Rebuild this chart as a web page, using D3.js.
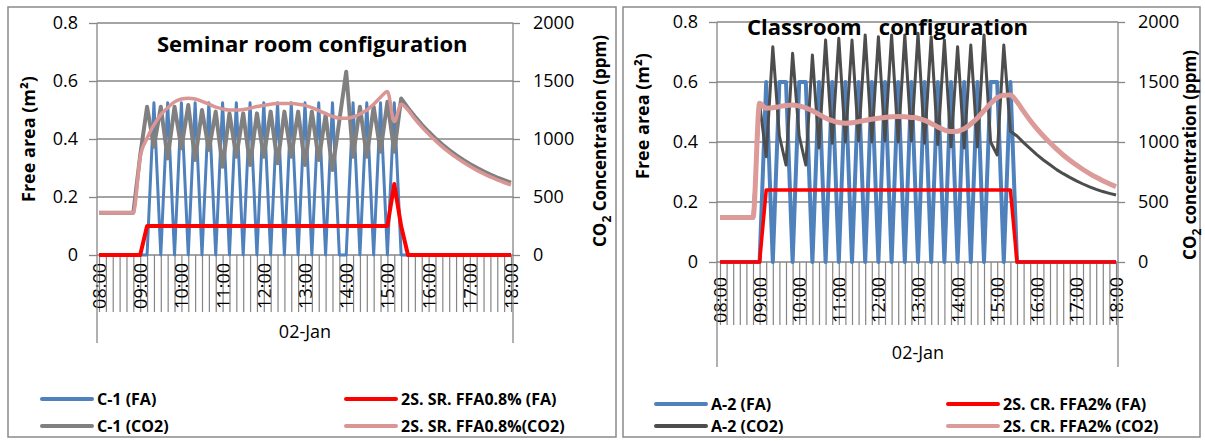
<!DOCTYPE html>
<html>
<head>
<meta charset="utf-8">
<title>Free area and CO2 concentration</title>
<script src="https://d3js.org/d3.v7.min.js"></script>
<style>
  body { margin: 0; background: #fff; }
  text { font-family: "Open Sans", sans-serif; fill: #000; }
</style>
</head>
<body>
<div id="chart"></div>
<script>

// categories: 10-minute steps, 02-Jan
const times = [
  "08:00","08:10","08:20","08:30","08:40","08:50","09:00","09:10","09:20","09:30","09:40","09:50",
  "10:00","10:10","10:20","10:30","10:40","10:50","11:00","11:10","11:20","11:30","11:40","11:50",
  "12:00","12:10","12:20","12:30","12:40","12:50","13:00","13:10","13:20","13:30","13:40","13:50",
  "14:00","14:10","14:20","14:30","14:40","14:50","15:00","15:10","15:20","15:30","15:40","15:50",
  "16:00","16:10","16:20","16:30","16:40","16:50","17:00","17:10","17:20","17:30","17:40","17:50",
  "18:00"];
const hourLabels = ["08:00","09:00","10:00","11:00","12:00","13:00","14:00","15:00","16:00","17:00","18:00"];
const faTicks = [0, 0.2, 0.4, 0.6, 0.8];
const co2Ticks = [0, 500, 1000, 1500, 2000];

// Seminar room (left chart)
const c1FA = [
  0,0,0,0,0,0,0,0,
  .525,0,.525,0,.525,0,.525,0,
  .525,0,.525,0,.525,0,.525,0,
  .525,0,.525,0,.525,0,.525,0,
  .525,0,.525,0,0,.525,0,.525,
  0,.525,0,.525,0,0,0,0,
  0,0,0,0,0,0,0,0,
  0,0,0,0,0];
const sr2FA = [
  0,0,0,0,0,0,0,
  .1,.1,.1,.1,.1,.1,.1,.1,.1,.1,.1,.1,.1,.1,.1,.1,.1,.1,
  .1,.1,.1,.1,.1,.1,.1,.1,.1,.1,.1,.1,.1,.1,.1,.1,.1,.1,
  .245,.1,
  0,0,0,0,0,0,0,0,0,0,0,0,0,0,0,0];
const c1CO2 = [
  365,365,365,365,365,365,860,
  1278,934,1278,833,1278,920,1293,819,1250,905,1236,761,1221,847,1221,776,1221,847,
  1236,790,1236,847,1236,776,1236,819,1207,733,1158,1580,847,1278,847,1278,890,1322,890,1350,
  1268,1193,1124,1062,1005,952,905,861,821,785,752,721,693,668,645,624];
const sr2CO2 = [
  365,365,365,365,365,365,847,
  1006,1121,1210,1270,1320,1345,1351,1345,1325,1300,1275,1260,1250,1250,1255,1265,1280,1290,
  1300,1305,1307,1305,1300,1290,1270,1245,1220,1195,1180,1178,1190,1215,1250,1300,1360,1410,1150,1300,
  1250,1173,1104,1042,985,932,885,841,801,765,732,701,673,648,625,604];

// Classroom (right chart)
const a2FA = [
  0,0,0,0,0,0,0,.6,
  0,.6,.6,0,.6,.6,0,.6,
  0,.6,0,.6,0,.6,0,.6,
  0,.6,0,.6,0,.6,0,.6,
  0,.6,0,.6,0,.6,0,.6,
  0,.6,.6,0,.6,0,0,0,
  0,0,0,0,0,0,0,0,
  0,0,0,0,0];
const cr2FA = [
  0,0,0,0,0,0,0,
  .24,.24,.24,.24,.24,.24,.24,.24,.24,.24,.24,.24,.24,.24,.24,.24,.24,.24,.24,
  .24,.24,.24,.24,.24,.24,.24,.24,.24,.24,.24,.24,.24,.24,.24,.24,.24,.24,.24,
  0,0,0,0,0,0,0,0,0,0,0,0,0,0,0,0];
const a2CO2 = [
  370,370,370,370,370,370,1320,
  878,1794,1050,808,1739,1050,808,1725,950,1850,990,1864,1000,1850,1010,1892,1000,1878,
  1010,1892,1000,1892,1010,1906,990,1878,980,1850,960,1794,950,1808,960,1892,1000,892,1808,1090,
  1050,995,945,895,850,810,770,736,705,676,650,626,605,587,572,558];
const cr2CO2 = [
  370,370,370,370,370,370,1322,
  1282,1285,1295,1305,1308,1300,1285,1260,1230,1200,1178,1162,1156,1160,1170,1180,1190,1198,
  1205,1210,1212,1211,1205,1198,1180,1155,1125,1100,1087,1090,1110,1150,1200,1260,1320,1370,1390,1392,
  1335,1255,1180,1112,1050,993,940,892,848,808,771,737,706,678,652,628];

const W = 1205, H = 441;
const svg = d3.select("#chart").append("svg").attr("width", W).attr("height", H);

const charts = [
  {
    box: [8, 7, 616, 437], axL: 97, axR: 513, x0: 99, x1: 511, yTop: 23, yBot: 255,
    axisEnd: 343, tickEnd: 312, labelTop: 263, janY: 338,
    title: "Seminar room configuration", titleX: 157, titleY: 52,
    lTitleX: 29, lTitleY: 139, rTitleX: 600, rTitleY: 141, rWord: "Concentration",
    legX: [42, 346], legY: [399, 426],
    series: [
      {name: "C-1 (FA)", data: c1FA, axis: "L", color: "#4f81bd", w: 3, leg: [0, 0]},
      {name: "2S. SR. FFA0.8% (FA)", data: sr2FA, axis: "L", color: "#ff0000", w: 4, leg: [1, 0]},
      {name: "C-1 (CO2)", data: c1CO2, axis: "R", color: "#808080", w: 4, leg: [0, 1]},
      {name: "2S. SR. FFA0.8%(CO2)", data: sr2CO2, axis: "R", color: "#d99694", w: 3.5, smooth: true, leg: [1, 1]}
    ]
  },
  {
    box: [623, 7, 1200, 437], axL: 717, axR: 1118, x0: 720, x1: 1116, yTop: 22, yBot: 262,
    axisEnd: 367, tickEnd: 325, labelTop: 277, janY: 359,
    title: "Classroom   configuration", titleX: 747, titleY: 35,
    lTitleX: 643, lTitleY: 116, rTitleX: 1190, rTitleY: 155, rWord: "concentration",
    legX: [656, 948], legY: [404, 426],
    series: [
      {name: "A-2 (FA)", data: a2FA, axis: "L", color: "#4f81bd", w: 4, leg: [0, 0]},
      {name: "2S. CR. FFA2% (FA)", data: cr2FA, axis: "L", color: "#ff0000", w: 3.5, leg: [1, 0]},
      {name: "A-2 (CO2)", data: a2CO2, axis: "R", color: "#4d4d4d", w: 3, leg: [0, 1]},
      {name: "2S. CR. FFA2% (CO2)", data: cr2CO2, axis: "R", color: "#dc9a99", w: 5, smooth: true, leg: [1, 1]}
    ]
  }
];

const gridColor = "#868686";

charts.forEach(function(c) {
  const g = svg.append("g");
  g.append("rect")
    .attr("x", c.box[0]).attr("y", c.box[1])
    .attr("width", c.box[2] - c.box[0]).attr("height", c.box[3] - c.box[1])
    .attr("fill", "#fff").attr("stroke", "#8a8a8a").attr("stroke-width", 1.5);

  const x = d3.scalePoint().domain(times).range([c.x0, c.x1]);
  const yL = d3.scaleLinear().domain([0, 0.8]).range([c.yBot, c.yTop]);
  const yR = d3.scaleLinear().domain([0, 2000]).range([c.yBot, c.yTop]);

  // horizontal gridlines
  g.selectAll(".grid").data(faTicks).enter().append("line")
    .attr("x1", c.axL).attr("x2", c.axR)
    .attr("y1", d => yL(d)).attr("y2", d => yL(d))
    .attr("stroke", gridColor).attr("stroke-width", 1.3);

  // category ticks (every 10 min) and hour labels
  const xAxis = d3.axisBottom(x)
    .tickSize(c.tickEnd - c.yBot)
    .tickFormat(d => hourLabels.indexOf(d) >= 0 ? d : "");
  const gx = g.append("g").attr("transform", "translate(0," + c.yBot + ")").call(xAxis);
  gx.select(".domain").remove();
  gx.selectAll(".tick line").attr("stroke", gridColor).attr("stroke-width", 1.2);
  gx.selectAll(".tick text")
    .attr("x", 0).attr("y", 0).attr("dy", "0.36em")
    .attr("transform", "translate(0," + (c.labelTop - c.yBot) + ") rotate(-90)")
    .style("text-anchor", "end")
    .style("font-size", "18px").style("font-family", "'Open Sans', sans-serif").attr("fill", "#000");

  // left value axis
  const gl = g.append("g").attr("transform", "translate(" + c.axL + ",0)")
    .call(d3.axisLeft(yL).tickValues(faTicks).tickSize(8).tickPadding(11)
      .tickFormat(d => d === 0 ? "0" : d3.format(".1f")(d)));
  gl.select(".domain").remove();
  gl.selectAll(".tick line").attr("stroke", gridColor).attr("stroke-width", 1.3);
  gl.selectAll(".tick text").style("font-size", "18px").style("font-family", "'Open Sans', sans-serif").attr("fill", "#000");

  // right value axis
  const gr = g.append("g").attr("transform", "translate(" + c.axR + ",0)")
    .call(d3.axisRight(yR).tickValues(co2Ticks).tickSize(7).tickPadding(13).tickFormat(d3.format("d")));
  gr.select(".domain").remove();
  gr.selectAll(".tick line").attr("stroke", gridColor).attr("stroke-width", 1.3);
  gr.selectAll(".tick text").style("font-size", "18px").style("font-family", "'Open Sans', sans-serif").attr("fill", "#000");

  // vertical axis lines
  [c.axL, c.axR].forEach(function(ax) {
    g.append("line").attr("x1", ax).attr("x2", ax).attr("y1", c.yTop).attr("y2", c.axisEnd)
      .attr("stroke", gridColor).attr("stroke-width", 1.3);
  });

  // series
  c.series.forEach(function(s) {
    const y = s.axis === "L" ? yL : yR;
    const line = d3.line()
      .x((d, i) => x(times[i]))
      .y(d => y(d))
      .curve(s.smooth ? d3.curveMonotoneX : d3.curveLinear);
    g.append("path").datum(s.data)
      .attr("d", line)
      .attr("fill", "none")
      .attr("stroke", s.color)
      .attr("stroke-width", s.w)
      .attr("stroke-linejoin", "round");
  });

  // title
  g.append("text").attr("x", c.titleX).attr("y", c.titleY)
    .attr("xml:space", "preserve").style("white-space", "pre")
    .style("font-size", "22px").style("font-weight", "bold")
    .text(c.title);

  // date label
  g.append("text").attr("x", (c.x0 + c.x1) / 2).attr("y", c.janY)
    .attr("text-anchor", "middle").style("font-size", "18px")
    .text("02-Jan");

  // left axis title
  const lt = g.append("text")
    .attr("transform", "translate(" + c.lTitleX + "," + c.lTitleY + ") rotate(-90)")
    .attr("text-anchor", "middle").attr("dy", "0.35em")
    .style("font-size", "18px").style("font-weight", "bold");
  lt.text("Free area (m²)");

  // right axis title with subscript
  const rt = g.append("text")
    .attr("transform", "translate(" + c.rTitleX + "," + c.rTitleY + ") rotate(-90)")
    .attr("text-anchor", "middle").attr("dy", "0.35em")
    .style("font-size", "17px").style("font-weight", "bold");
  rt.append("tspan").text("CO");
  rt.append("tspan").attr("dy", 5).style("font-size", "12px").text("2");
  rt.append("tspan").attr("dy", -5).text(" " + c.rWord + " (ppm)");

  // legend
  c.series.forEach(function(s) {
    const lx = c.legX[s.leg[0]], ly = c.legY[s.leg[1]];
    g.append("line").attr("x1", lx).attr("x2", lx + 50).attr("y1", ly).attr("y2", ly)
      .attr("stroke", s.color).attr("stroke-width", 4).attr("stroke-linecap", "round");
    g.append("text").attr("x", lx + 55).attr("y", ly).attr("dy", "0.35em")
      .style("font-size", "16px").style("font-weight", "bold")
      .text(s.name);
  });
});

</script>
</body>
</html>
